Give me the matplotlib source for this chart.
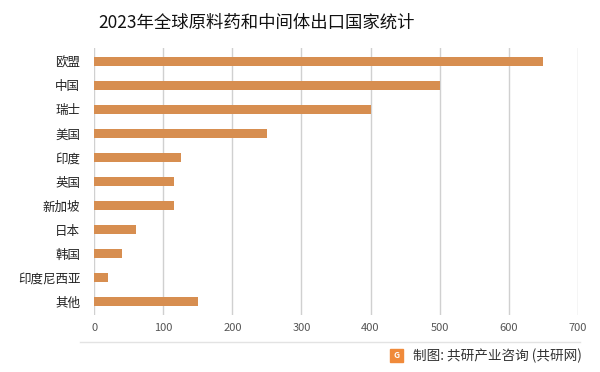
import matplotlib.pyplot as plt
from matplotlib.patches import Rectangle
from matplotlib.lines import Line2D

plt.rcParams['font.family'] = ['Noto Sans CJK SC', 'DejaVu Sans']

# 数据
国家 = ['欧盟', '中国', '瑞士', '美国', '印度', '英国', '新加坡', '日本', '韩国', '印度尼西亚', '其他']
数量 = [650, 500, 400, 250, 125, 115, 115, 60, 40, 20, 150]
刻度 = [0, 100, 200, 300, 400, 500, 600, 700]

fig = plt.figure(figsize=(6, 3.72), dpi=100)
ax = fig.add_axes([0.157, 0.153, 0.806, 0.718])

y = range(len(国家))
ax.barh(y, 数量, height=0.37, color='#D78E50', zorder=3)
ax.set_ylim(len(国家) - 0.45, -0.55)
ax.set_xlim(0, 700)
ax.set_xticks(刻度)
ax.set_yticks(list(y))
ax.set_yticklabels(国家, fontsize=9, color='#222222')
ax.tick_params(axis='x', labelsize=8, colors='#555555', length=0, pad=6)
ax.tick_params(axis='y', length=0, pad=10)
ax.grid(axis='x', color='#d0d0d0', linewidth=1, zorder=0)
for s in ax.spines.values():
    s.set_visible(False)

fig.text(0.427, 0.94, '2023年全球原料药和中间体出口国家统计', ha='center', va='center',
         fontsize=12.5, color='#111111')

# 底部分隔线
fig.add_artist(Line2D([0.133, 0.967], [0.081, 0.081], transform=fig.transFigure,
                      color='#e3e3e3', linewidth=1))

# 来源
fig.add_artist(Rectangle((0.650, 0.026), 0.022, 0.036, transform=fig.transFigure,
                         color='#F08A3A'))
fig.text(0.661, 0.044, 'G', ha='center', va='center', fontsize=6, color='white',
         fontweight='bold')
fig.text(0.688, 0.044, '制图: 共研产业咨询 (共研网)', ha='left', va='center',
         fontsize=9.8, color='#333333')

fig.savefig('out.png', dpi=100)
